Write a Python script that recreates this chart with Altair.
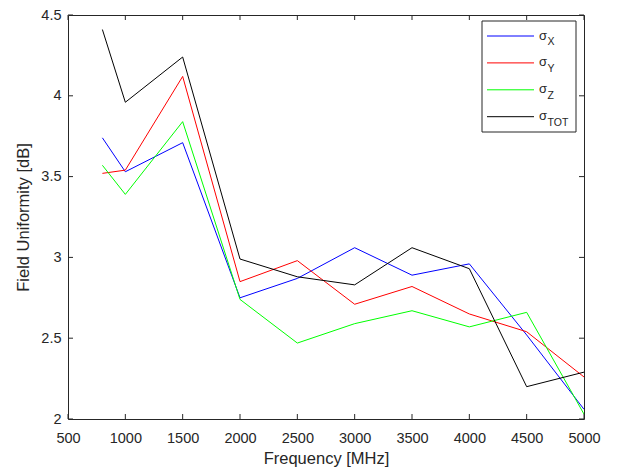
import altair as alt
import pandas as pd

# ---- data ----
freq = [800, 1000, 1500, 2000, 2500, 3000, 3500, 4000, 4500, 5000]
sigma_x = [3.74, 3.53, 3.71, 2.75, 2.87, 3.06, 2.89, 2.96, 2.52, 2.06]
sigma_y = [3.52, 3.54, 4.12, 2.85, 2.98, 2.71, 2.82, 2.65, 2.54, 2.26]
sigma_z = [3.57, 3.39, 3.84, 2.74, 2.47, 2.59, 2.67, 2.57, 2.66, 2.03]
sigma_tot = [4.41, 3.96, 4.24, 2.99, 2.88, 2.83, 3.06, 2.93, 2.20, 2.29]

series_names = ["X", "Y", "Z", "TOT"]
series_colors = ["#0000ff", "#ff0000", "#00ff00", "#000000"]
x_ticks = [500, 1000, 1500, 2000, 2500, 3000, 3500, 4000, 4500, 5000]
y_ticks = [2, 2.5, 3, 3.5, 4, 4.5]

W, H = 516, 404
TOP = 7
AX = "#262626"
FONT = "Liberation Sans"

rows = []
for name, vals in zip(series_names, [sigma_x, sigma_y, sigma_z, sigma_tot]):
    for f, v in zip(freq, vals):
        rows.append({"freq": f, "value": v, "series": name})
df = pd.DataFrame(rows)

xscale = alt.Scale(domain=[500, 5000], nice=False, zero=False)
yscale = alt.Scale(domain=[2, 4.5], nice=False, zero=False)
xaxis = alt.Axis(title="Frequency [MHz]", values=x_ticks, format="d",
                 labelPadding=12, titlePadding=6)
yaxis = alt.Axis(title="Field Uniformity [dB]", values=y_ticks, format="~g",
                 labelPadding=7, titlePadding=9)

lines = alt.Chart(df).mark_line(strokeWidth=1, clip=True).encode(
    x=alt.X("freq:Q", scale=xscale, axis=xaxis),
    y=alt.Y("value:Q", scale=yscale, axis=yaxis),
    color=alt.Color("series:N", scale=alt.Scale(domain=series_names, range=series_colors),
                    legend=None),
)

xt = pd.DataFrame({"freq": x_ticks})
yt = pd.DataFrame({"value": y_ticks})
tick_len = 5
ticks = [
    alt.Chart(xt).mark_rule(color=AX, strokeWidth=1).encode(
        x=alt.X("freq:Q", scale=xscale, axis=xaxis), y=alt.value(H), y2=alt.value(H - tick_len)),
    alt.Chart(xt).mark_rule(color=AX, strokeWidth=1).encode(
        x=alt.X("freq:Q", scale=xscale, axis=xaxis), y=alt.value(0), y2=alt.value(tick_len)),
    alt.Chart(yt).mark_rule(color=AX, strokeWidth=1).encode(
        y=alt.Y("value:Q", scale=yscale, axis=yaxis), x=alt.value(0), x2=alt.value(tick_len)),
    alt.Chart(yt).mark_rule(color=AX, strokeWidth=1).encode(
        y=alt.Y("value:Q", scale=yscale, axis=yaxis), x=alt.value(W), x2=alt.value(W - tick_len)),
]

# ---- legend box (manual, for subscripts) ----
one = pd.DataFrame({"k": [0]})
legend_layers = [
    alt.Chart(one).mark_rect(fill="white", stroke=AX, strokeWidth=1).encode(
        x=alt.value(414), x2=alt.value(508), y=alt.value(6), y2=alt.value(117))
]
row_step = 26.9
for i, (name, col) in enumerate(zip(series_names, series_colors)):
    ly = 21 + i * row_step
    legend_layers.append(
        alt.Chart(one).mark_rule(color=col, strokeWidth=1).encode(
            x=alt.value(419), x2=alt.value(466), y=alt.value(ly)))
    legend_layers.append(
        alt.Chart(one).mark_text(text="σ", font=FONT, fontSize=13, color=AX,
                                 align="left", baseline="alphabetic").encode(
            x=alt.value(471), y=alt.value(ly + 3.5)))
    legend_layers.append(
        alt.Chart(one).mark_text(text=name, font=FONT, fontSize=10.5, color=AX,
                                 align="left", baseline="alphabetic").encode(
            x=alt.value(479.5), y=alt.value(ly + 9)))

chart = alt.layer(lines, *ticks, *legend_layers).properties(
    width=W, height=H,
    autosize=alt.AutoSizeParams(type="none"),
    padding={"left": 60, "top": TOP, "right": 38, "bottom": 52},
).configure_view(
    stroke=AX, strokeWidth=1
).configure_axis(
    labelFont=FONT, labelFontSize=14.5, labelColor=AX,
    titleFont=FONT, titleFontSize=16.5, titleColor=AX, titleFontWeight="normal",
    domain=False, ticks=False, tickSize=0, grid=False,
    labelFlush=False, labelOverlap=False,
)

chart.save("out.html", embed_options={"renderer": "svg", "actions": False})
